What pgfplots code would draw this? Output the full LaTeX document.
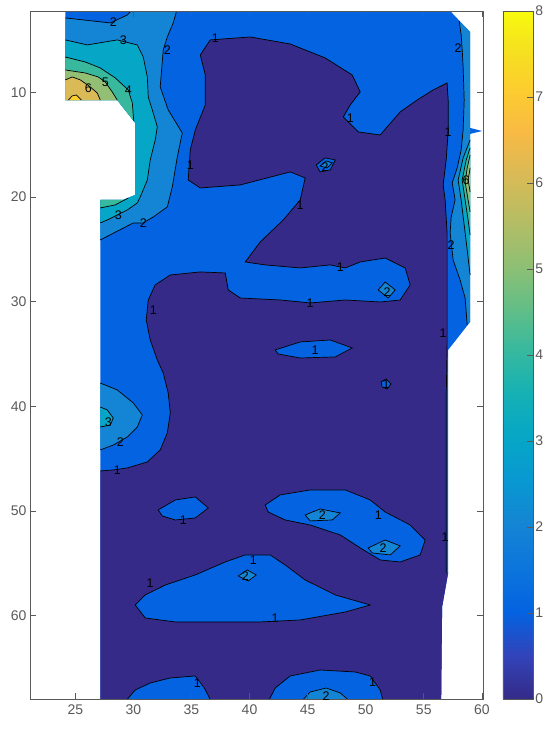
\documentclass[border=0pt]{standalone}
\usepackage{fontspec}
\setmainfont{Liberation Sans}
\usepackage{pgfplots}
\pgfplotsset{compat=1.18}
% parula level colours (value k of an 8-level caxis)
\definecolor{c0}{rgb}{0.2081,0.1663,0.5292}
\definecolor{c1}{rgb}{0.0117,0.3875,0.8820}
\definecolor{c2}{rgb}{0.0793,0.5200,0.8312}
\definecolor{c3}{rgb}{0.0228,0.6535,0.7768}
\definecolor{c4}{rgb}{0.2178,0.7250,0.6193}
\definecolor{c5}{rgb}{0.5709,0.7485,0.4494}
\definecolor{c6}{rgb}{0.8507,0.7299,0.3360}
\definecolor{c7}{rgb}{0.9880,0.8066,0.1794}
\definecolor{axgray}{rgb}{0.35,0.35,0.35}
\pgfplotsset{
  reg/.style={draw=none, fill=#1},
  cl/.style={draw=black, line width=0.7pt},
}
\begin{document}
\begin{tikzpicture}
\begin{axis}[
  scale only axis,
  width=453pt, height=688pt,
  xmin=21.1, xmax=60.1, ymin=2.24, ymax=67.95,
  y dir=reverse,
  xtick={25,30,...,60}, ytick={10,20,...,60},
  tick align=inside, major tick length=6pt,
  axis line style={axgray, line width=0.6pt},
  tick style={axgray, line width=0.6pt},
  ticklabel style={font=\fontsize{14}{16}\selectfont, text=axgray},
  /pgf/number format/assume math mode=true,
  xticklabel style={yshift=-2pt},
  axis on top,
  colormap={parula}{
    rgb(0pt)=(0.2081,0.1663,0.5292) rgb(4pt)=(0.1959,0.2645,0.7279)
    rgb(8pt)=(0.0117,0.3875,0.8820) rgb(12pt)=(0.0498,0.4586,0.8641)
    rgb(16pt)=(0.0793,0.5200,0.8312) rgb(20pt)=(0.0343,0.5966,0.8199)
    rgb(24pt)=(0.0228,0.6535,0.7768) rgb(28pt)=(0.0843,0.6928,0.7062)
    rgb(32pt)=(0.2178,0.7250,0.6193) rgb(36pt)=(0.3953,0.7459,0.5244)
    rgb(40pt)=(0.5709,0.7485,0.4494) rgb(44pt)=(0.7184,0.7411,0.3905)
    rgb(48pt)=(0.8507,0.7299,0.3360) rgb(52pt)=(0.9739,0.7314,0.2666)
    rgb(56pt)=(0.9880,0.8066,0.1794) rgb(60pt)=(0.9589,0.8949,0.1132)
    rgb(63pt)=(0.9763,0.9831,0.0538)
  },
  colorbar,
  colorbar/width=30pt,
  point meta min=0, point meta max=8,
  colorbar shift/.style={xshift=10pt},
  colorbar style={
    y dir=normal,
    ytick={0,1,...,8},
    ytick pos=right,
    tick align=inside, major tick length=6pt,
    axis line style={axgray, line width=0.6pt},
    tick style={axgray, line width=0.6pt},
    /pgf/number format/assume math mode=true,
    yticklabel style={font=\fontsize{14}{16}\selectfont, text=axgray, xshift=-1pt},
  },
]

% ---- data region (level 1-2 as base)
\addplot[reg=c1] coordinates {
 (24.14,2.0) (57.27,2.0) (57.27,2.24) (58.99,4.24) (58.99,13.41) (60.03,13.70)
 (58.99,13.98) (58.99,31.94) (57.10,34.61) (57.10,55.91) (56.58,59.16)
 (56.50,68.2) (27.15,68.2) (27.15,20.29) (29.13,20.29) (30.16,19.81)
 (30.16,12.93) (28.61,10.74) (24.14,10.74)
} -- cycle;

% ---- level 0-1 (main dark region)
\addplot[reg=c0] coordinates {
 (27.15,46.17) (28.27,46.07) (29.48,45.88) (31.20,45.31) (32.31,44.16)
 (32.92,42.54) (33.18,40.63) (33.00,38.72) (32.57,36.81) (32.06,35.57)
 (31.45,33.66) (31.11,31.75) (31.28,29.84) (31.88,28.40) (33.18,27.45)
 (35.76,27.16) (37.91,27.26) (38.17,28.88) (39.20,29.65) (42.64,29.84)
 (45.22,30.12) (48.24,29.84) (51.25,30.03) (52.97,29.84) (53.83,28.40)
 (53.40,26.78) (51.68,25.83) (49.53,26.21) (48.24,26.78) (46.95,26.49)
 (44.36,26.78) (41.35,26.49) (39.63,26.21) (40.92,24.30) (42.90,22.20)
 (44.36,20.29) (44.79,18.18) (43.50,17.61) (39.20,18.85) (35.76,19.14)
 (34.72,18.38) (34.90,15.51) (35.33,13.60) (36.19,11.21) (36.19,8.35)
 (35.76,6.44) (36.62,5.00) (40.06,4.72) (43.50,5.39) (46.51,6.72)
 (48.84,8.35) (49.53,9.97) (48.67,11.21) (48.07,12.36) (49.36,13.79)
 (51.25,14.08) (52.97,11.88) (54.43,10.74) (55.81,9.78) (57.01,9.11)
 (57.10,10.74) (57.10,13.79) (56.93,16.47) (56.67,18.85) (56.84,20.29)
 (57.01,23.44) (57.01,29.84) (57.01,34.14) (56.93,39.39) (56.93,48.94)
 (56.93,55.91) (57.10,55.91) (56.58,59.16) (56.50,68.2) (27.15,68.2)
} -- cycle;
\addplot[cl] coordinates {
 (27.15,46.17) (28.27,46.07) (29.48,45.88) (31.20,45.31) (32.31,44.16)
 (32.92,42.54) (33.18,40.63) (33.00,38.72) (32.57,36.81) (32.06,35.57)
 (31.45,33.66) (31.11,31.75) (31.28,29.84) (31.88,28.40) (33.18,27.45)
 (35.76,27.16) (37.91,27.26) (38.17,28.88) (39.20,29.65) (42.64,29.84)
 (45.22,30.12) (48.24,29.84) (51.25,30.03) (52.97,29.84) (53.83,28.40)
 (53.40,26.78) (51.68,25.83) (49.53,26.21) (48.24,26.78) (46.95,26.49)
 (44.36,26.78) (41.35,26.49) (39.63,26.21) (40.92,24.30) (42.90,22.20)
 (44.36,20.29) (44.79,18.18) (43.50,17.61) (39.20,18.85) (35.76,19.14)
 (34.72,18.38) (34.90,15.51) (35.33,13.60) (36.19,11.21) (36.19,8.35)
 (35.76,6.44) (36.62,5.00) (40.06,4.72) (43.50,5.39) (46.51,6.72)
 (48.84,8.35) (49.53,9.97) (48.67,11.21) (48.07,12.36) (49.36,13.79)
 (51.25,14.08) (52.97,11.88) (54.43,10.74) (55.81,9.78) (57.01,9.11)
 (57.10,10.74) (57.10,13.79) (56.93,16.47) (56.67,18.85) (56.84,20.29)
 (57.01,23.44) (57.01,29.84) (57.01,34.14) (56.93,39.39) (56.93,48.94)
 (56.93,55.91)
};

% ---- level 1-2 islands inside the dark region
\addplot[reg=c1, cl] coordinates {(42.21,34.61) (44.36,33.85) (46.95,33.66) (48.84,34.42) (47.38,35.28) (44.36,35.38) (42.47,35.00)} -- cycle;
\addplot[reg=c1, cl] coordinates {(51.33,37.67) (51.76,37.38) (52.19,37.86) (51.85,38.34) (51.42,38.15)} -- cycle;
\addplot[reg=c1, cl] coordinates {(32.14,49.89) (33.61,48.94) (35.33,48.65) (36.45,49.70) (35.33,50.66) (33.61,50.85) (32.49,50.47)} -- cycle;
\addplot[reg=c1, cl] coordinates {
 (41.35,49.42) (42.64,48.46) (45.22,47.98) (48.24,47.98) (50.39,48.94)
 (51.68,50.09) (53.83,51.33) (55.12,52.76) (54.69,54.19) (52.97,54.86)
 (51.25,54.67) (49.53,53.52) (47.81,52.28) (45.22,51.33) (43.07,50.85)
 (41.61,50.09)} -- cycle;
\addplot[reg=c1, cl] coordinates {
 (30.16,58.97) (31.02,58.01) (32.75,57.06) (35.33,56.10) (37.91,54.86)
 (39.63,54.19) (41.78,54.19) (43.07,55.15) (44.79,56.58) (47.38,58.01)
 (50.39,58.97) (48.24,59.64) (44.36,60.40) (40.92,60.59) (37.48,60.59)
 (33.61,60.59) (31.02,60.21)} -- cycle;
\addplot[reg=c1, cl] coordinates {(45.74,16.94) (46.51,16.27) (47.38,16.47) (46.95,17.42) (46.08,17.61)} -- cycle;
\addplot[reg=c1] coordinates {(29.30,68.2) (30.16,67.09) (31.45,66.42) (33.18,65.94) (35.33,65.75) (36.11,66.90) (36.71,68.2)} -- cycle;
\addplot[cl] coordinates {(29.30,68.2) (30.16,67.09) (31.45,66.42) (33.18,65.94) (35.33,65.75) (36.11,66.90) (36.71,68.2)};
\addplot[reg=c1] coordinates {(41.61,68.2) (42.21,66.90) (43.50,65.75) (46.08,65.18) (49.10,65.37) (50.39,65.75) (51.25,67.09) (51.51,68.2)} -- cycle;
\addplot[cl] coordinates {(41.61,68.2) (42.21,66.90) (43.50,65.75) (46.08,65.18) (49.10,65.37) (50.39,65.75) (51.25,67.09) (51.51,68.2)};

% ---- level 2-3
\addplot[reg=c2] coordinates {
 (24.14,2.90) (28.01,3.38) (29.48,2.62) (29.99,2.0) (33.78,2.0)
 (33.43,3.38) (32.92,4.72) (32.57,5.96) (32.31,9.49) (33.00,11.69)
 (34.21,13.89) (33.78,16.18) (33.35,19.04) (32.92,20.95) (31.71,21.91)
 (30.85,22.48) (29.99,22.48) (27.15,24.11) (27.15,20.29) (29.13,20.29)
 (30.16,19.81) (30.16,12.93) (28.61,10.74) (24.14,10.74)} -- cycle;
\addplot[cl] coordinates {(24.14,2.90) (28.01,3.38) (29.48,2.62) (29.99,2.0)};
\addplot[cl] coordinates {
 (33.78,2.0) (33.43,3.38) (32.92,4.72) (32.57,5.96) (32.31,9.49) (33.00,11.69)
 (34.21,13.89) (33.78,16.18) (33.35,19.04) (32.92,20.95) (31.71,21.91)
 (30.85,22.48) (29.99,22.48) (27.15,24.11)};
\addplot[reg=c2] coordinates {
 (58.05,3.19) (58.22,4.53) (58.31,5.96) (58.39,7.58) (58.48,10.74)
 (58.39,13.60) (58.22,15.51) (57.88,17.23) (57.45,18.66) (57.70,20.29)
 (57.36,21.91) (57.27,23.44) (57.53,26.02) (58.13,27.93) (58.56,29.65)
 (58.74,32.22) (58.99,31.94) (58.99,4.24)} -- cycle;
\addplot[cl] coordinates {
 (58.05,3.19) (58.22,4.53) (58.31,5.96) (58.39,7.58) (58.48,10.74)
 (58.39,13.60) (58.22,15.51) (57.88,17.23) (57.45,18.66) (57.70,20.29)
 (57.36,21.91) (57.27,23.44) (57.53,26.02) (58.13,27.93) (58.56,29.65)
 (58.74,32.22)};
\addplot[reg=c2] coordinates {(27.15,37.77) (28.61,38.43) (29.99,39.67) (30.77,40.82) (30.34,41.97) (29.48,42.92) (28.27,43.69) (27.15,44.16)} -- cycle;
\addplot[cl] coordinates {(27.15,37.77) (28.61,38.43) (29.99,39.67) (30.77,40.82) (30.34,41.97) (29.48,42.92) (28.27,43.69) (27.15,44.16)};
\addplot[reg=c2, cl] coordinates {(44.79,50.37) (46.08,49.80) (47.81,50.18) (47.12,50.85) (45.22,50.94)} -- cycle;
\addplot[reg=c2, cl] coordinates {(50.22,53.52) (51.68,52.76) (52.97,53.33) (52.11,54.19) (50.56,54.00)} -- cycle;
\addplot[reg=c2, cl] coordinates {(39.03,56.20) (39.80,55.62) (40.58,56.10) (39.89,56.68)} -- cycle;
\addplot[reg=c2, cl] coordinates {(51.08,28.88) (51.68,28.12) (52.54,28.88) (51.94,29.65)} -- cycle;
\addplot[reg=c2, cl] coordinates {(46.08,17.04) (46.60,16.56) (47.12,16.75) (46.69,17.23)} -- cycle;
\addplot[reg=c2] coordinates {(44.45,68.2) (45.22,67.28) (46.60,66.90) (47.81,67.37) (48.67,68.2)} -- cycle;
\addplot[cl] coordinates {(44.45,68.2) (45.22,67.28) (46.60,66.90) (47.81,67.37) (48.67,68.2)};

% ---- level 3-4
\addplot[reg=c3] coordinates {
 (24.14,5.00) (26.03,5.48) (28.61,5.00) (30.34,5.48) (30.85,6.63) (31.20,8.54)
 (31.28,10.45) (31.71,11.98) (32.06,13.31) (31.88,14.56) (31.45,16.47)
 (31.20,18.38) (30.59,20.00) (30.34,20.57) (29.48,21.24) (27.75,22.20)
 (27.15,22.48) (27.15,20.29) (29.13,20.29) (30.16,19.81) (30.16,12.93)
 (28.61,10.74) (24.14,10.74)} -- cycle;
\addplot[cl] coordinates {
 (24.14,5.00) (26.03,5.48) (28.61,5.00) (30.34,5.48) (30.85,6.63) (31.20,8.54)
 (31.28,10.45) (31.71,11.98) (32.06,13.31) (31.88,14.56) (31.45,16.47)
 (31.20,18.38) (30.59,20.00) (30.34,20.57) (29.48,21.24) (27.75,22.20)
 (27.15,22.48)};
\addplot[reg=c3] coordinates {(58.99,14.56) (58.39,16.27) (57.96,18.38) (58.22,20.29) (58.48,22.67) (58.74,25.06) (58.99,27.45)} -- cycle;
\addplot[cl] coordinates {(58.99,14.56) (58.39,16.27) (57.96,18.38) (58.22,20.29) (58.48,22.67) (58.74,25.06) (58.99,27.45)};
\addplot[reg=c3] coordinates {(27.15,40.06) (27.75,40.34) (28.27,41.11) (28.01,41.78) (27.15,41.97)} -- cycle;
\addplot[cl] coordinates {(27.15,40.06) (27.75,40.34) (28.27,41.11) (28.01,41.78) (27.15,41.97)};

% ---- level 4-5
\addplot[reg=c4] coordinates {(24.14,6.63) (25.86,7.11) (27.15,7.68) (28.44,8.63) (29.56,9.78) (29.91,11.02) (30.03,12.74) (28.61,10.74) (24.14,10.74)} -- cycle;
\addplot[cl] coordinates {(24.14,6.63) (25.86,7.11) (27.15,7.68) (28.44,8.63) (29.56,9.78) (29.91,11.02) (30.03,12.74)};
\addplot[reg=c4] coordinates {(27.15,21.05) (28.44,20.76) (29.56,20.10) (29.13,20.29) (27.15,20.29)} -- cycle;
\addplot[cl] coordinates {(27.15,21.05) (28.44,20.76) (29.56,20.10)};
\addplot[reg=c4] coordinates {(58.99,15.32) (58.65,16.47) (58.31,18.38) (58.56,20.29) (58.82,22.20) (58.99,23.63)} -- cycle;
\addplot[cl] coordinates {(58.99,15.32) (58.65,16.47) (58.31,18.38) (58.56,20.29) (58.82,22.20) (58.99,23.63)};

% ---- level 5-6
\addplot[reg=c5] coordinates {(24.14,7.87) (25.86,8.16) (26.98,8.54) (27.58,9.02) (28.18,9.97) (28.61,10.74) (24.14,10.74)} -- cycle;
\addplot[cl] coordinates {(24.14,7.87) (25.86,8.16) (26.98,8.54) (27.58,9.02) (28.18,9.97) (28.61,10.74)};
\addplot[reg=c5] coordinates {(58.99,15.99) (58.74,17.23) (58.56,18.57) (58.82,20.29) (58.99,21.43)} -- cycle;
\addplot[cl] coordinates {(58.99,15.99) (58.74,17.23) (58.56,18.57) (58.82,20.29) (58.99,21.43)};

% ---- level 6-7
\addplot[reg=c6] coordinates {(24.14,8.82) (24.74,8.54) (25.43,8.82) (26.29,9.49) (26.89,10.07) (27.15,10.74) (24.14,10.74)} -- cycle;
\addplot[cl] coordinates {(24.14,8.82) (24.74,8.54) (25.43,8.82) (26.29,9.49) (26.89,10.07) (27.15,10.74)};
\addplot[reg=c6] coordinates {(58.99,17.23) (58.82,18.38) (58.99,19.52)} -- cycle;
\addplot[cl] coordinates {(58.99,17.23) (58.82,18.38) (58.99,19.52)};

% ---- level 7-8
\addplot[reg=c7] coordinates {(24.40,10.74) (24.74,10.35) (25.09,10.26) (25.52,10.74)} -- cycle;
\addplot[cl] coordinates {(24.40,10.74) (24.74,10.35) (25.09,10.26) (25.52,10.74)};

% ---- contour labels
\addplot[only marks, mark=none, nodes near coords, point meta=explicit symbolic,
  nodes near coords style={font=\fontsize{12.5}{13}\selectfont, anchor=center, inner sep=0pt, text=black}]
  table[meta=t] {
x y t
37.05 4.81 1
34.90 16.94 1
48.67 12.45 1
44.36 20.76 1
47.81 26.69 1
45.22 30.12 1
31.71 30.79 1
45.65 34.61 1
51.76 37.86 1
28.61 46.07 1
34.30 50.85 1
51.08 50.37 1
31.45 56.87 1
40.32 54.67 1
42.21 60.21 1
57.10 13.79 1
56.67 32.99 1
56.84 52.47 1
35.50 66.40 1
50.60 66.30 1
28.27 3.28 2
32.92 5.96 2
30.85 22.48 2
28.87 43.40 2
46.51 17.13 2
51.85 29.07 2
46.26 50.37 2
51.51 53.52 2
39.63 56.20 2
46.60 67.66 2
57.96 5.77 2
57.36 24.58 2
29.13 5.00 3
28.70 21.72 3
27.84 41.49 3
29.56 9.78 4
27.58 9.02 5
26.12 9.59 6
58.65 18.38 6
};

\end{axis}
\pgfresetboundingbox
\path[use as bounding box] ([xshift=-30pt,yshift=11pt]current axis.north west) rectangle ([xshift=67pt,yshift=-30pt]current axis.south east);
\end{tikzpicture}
\end{document}
